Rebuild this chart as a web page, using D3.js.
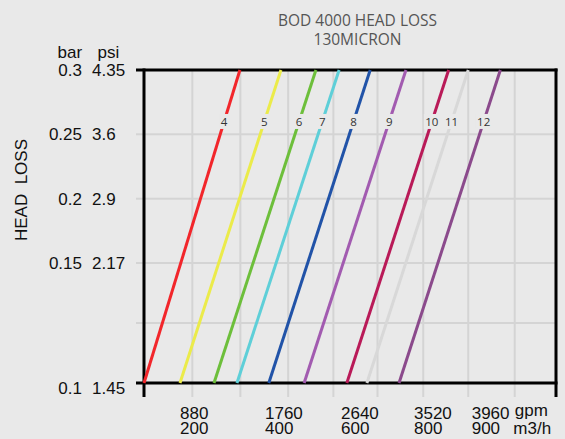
<!DOCTYPE html>
<html><head><meta charset="utf-8">
<script src="https://cdn.jsdelivr.net/npm/d3@7"></script>
<style>
html,body{margin:0;padding:0;background:#e9e9e9;}
svg{display:block;}
</style></head>
<body>
<svg id="chart" width="565" height="439"></svg>
<script>
// ---- data ----
const titleLines = ["BOD 4000 HEAD LOSS", "130MICRON"];
const yTicksBar = [0.1, 0.15, 0.2, 0.25, 0.3];
const yTicksPsi = ["1.45", "2.17", "2.9", "3.6", "4.35"];
const yGridBar = [0.1, 0.125, 0.15, 0.2, 0.25, 0.3];
const xTicksM3h = [200, 400, 600, 800, 900];
const xTicksGpm = ["880", "1760", "2640", "3520", "3960"];
const xGridM3h = [229, 342, 461, 580, 700, 816, 894, 951];
const units = ["4", "5", "6", "7", "8", "9", "10", "11", "12"];
// flow (m3/h) at 0.1 bar and at 0.3 bar, for each number of units
const flowLow  = [0, 200, 280, 334, 410, 503, 616, 671, 759];
const flowHigh = [341, 442, 534, 595, 680, 778, 860, 894, 934];
const lossLow = 0.1, lossHigh = 0.3, labelLoss = 0.26;
const colors = ["#f2262b", "#ebeb4a", "#6dbf3b", "#5ecfd8", "#2153a8", "#a25bb0", "#b91a58", "#d8d8d8", "#8b4a8c"];

// ---- scales ----
const svg = d3.select("#chart");
const bg = "#e9e9e9";
const x = d3.scaleLinear().domain([0, 200, 400, 600, 800, 900, 1000])
  .range([144, 180, 265, 341, 414, 471.7, 556]);
const y = d3.scaleLinear().domain([0.1, 0.15, 0.3]).range([383, 263, 70]);
const pLeft = 144, pRight = 556, pTop = 70, tickEnd = 397, tickStart = 136;

// title
svg.append("g").selectAll("text").data(titleLines).join("text")
  .attr("x", 357.5).attr("y", (d, i) => 25.5 + i * 19)
  .attr("text-anchor", "middle")
  .attr("font-family", "'Open Sans', sans-serif").attr("font-size", 15.5)
  .attr("fill", "#555").text(d => d);

// grid
const grid = svg.append("g").attr("stroke", "#d4d4d4").attr("stroke-width", 2);
grid.selectAll(".gy").data(yGridBar).join("line")
  .attr("x1", tickStart).attr("x2", pRight).attr("y1", d => y(d)).attr("y2", d => y(d));
grid.selectAll(".gx").data(xGridM3h).join("line")
  .attr("x1", d => x(d)).attr("x2", d => x(d)).attr("y1", pTop).attr("y2", tickEnd);

// frame
const frame = svg.append("g").attr("stroke", "#000").attr("stroke-width", 3).attr("stroke-linecap", "butt");
frame.append("line").attr("x1", tickStart).attr("x2", pRight + 1.5).attr("y1", y(0.3)).attr("y2", y(0.3));
frame.append("line").attr("x1", tickStart).attr("x2", pRight + 1.5).attr("y1", y(0.1)).attr("y2", y(0.1));
frame.append("line").attr("x1", pLeft).attr("x2", pLeft).attr("y1", pTop - 1.5).attr("y2", tickEnd);
frame.append("line").attr("x1", pRight).attr("x2", pRight).attr("y1", pTop - 1.5).attr("y2", tickEnd);

// lines
const seriesData = units.map((u, i) => ({
  u, color: colors[i],
  pts: [[flowLow[i], lossLow], [flowHigh[i], lossHigh]]
}));
const lineGen = d3.line().x(d => x(d[0])).y(d => y(d[1]));
svg.append("g").selectAll("path").data(seriesData).join("path")
  .attr("d", d => lineGen(d.pts))
  .attr("fill", "none").attr("stroke", d => d.color).attr("stroke-width", 3);

// line labels
const lab = svg.append("g");
seriesData.forEach(d => {
  const x0 = x(d.pts[0][0]), x1 = x(d.pts[1][0]);
  const y0 = y(d.pts[0][1]), y1 = y(d.pts[1][1]);
  const ylab = y(labelLoss);
  const t = (ylab - y0) / (y1 - y0);
  const xlab = x0 + t * (x1 - x0);
  const w = d.u.length * 7 + 2;
  lab.append("rect").attr("x", xlab - w / 2).attr("y", ylab - 7.5).attr("width", w).attr("height", 15).attr("fill", bg);
  lab.append("text").attr("x", xlab).attr("y", ylab).attr("dy", "0.36em")
    .attr("text-anchor", "middle").attr("font-family", "'Open Sans', sans-serif")
    .attr("font-size", 11.5).attr("fill", "#333").text(d.u);
});

// y axis labels
const axFont = "'Liberation Sans', Arial, sans-serif";
const ylg = svg.append("g").attr("font-family", axFont).attr("font-size", 17).attr("fill", "#111");
ylg.selectAll(".b").data(yTicksBar).join("text")
  .attr("x", 82).attr("y", d => y(d) + (d === 0.1 ? 5 : 0)).attr("dy", "0.36em")
  .attr("text-anchor", "end").text(d => String(d));
ylg.selectAll(".p").data(yTicksPsi).join("text")
  .attr("x", 92).attr("y", (d, i) => y(yTicksBar[i]) + (i === 0 ? 5 : 0)).attr("dy", "0.36em")
  .attr("text-anchor", "start").text(d => d);
ylg.append("text").attr("x", 57.5).attr("y", 58).text("bar");
ylg.append("text").attr("x", 97.5).attr("y", 58).text("psi");
svg.append("text").attr("transform", "translate(26.5,190) rotate(-90)")
  .attr("text-anchor", "middle").attr("font-family", axFont).attr("font-size", 17)
  .attr("fill", "#111").style("white-space", "pre")
  .text("HEAD  LOSS");

// x axis labels
const xlg = svg.append("g").attr("font-family", axFont).attr("font-size", 17).attr("fill", "#111");
xlg.selectAll(".g").data(xTicksM3h).join("text")
  .attr("x", d => x(d)).attr("y", 419).text((d, i) => xTicksGpm[i]);
xlg.selectAll(".m").data(xTicksM3h).join("text")
  .attr("x", d => x(d)).attr("y", 434).text(d => String(d));
xlg.append("text").attr("x", x(950) + 1).attr("y", 416).text("gpm");
xlg.append("text").attr("x", x(950) - 0.5).attr("y", 434).text("m3/h");
</script>
</body></html>
